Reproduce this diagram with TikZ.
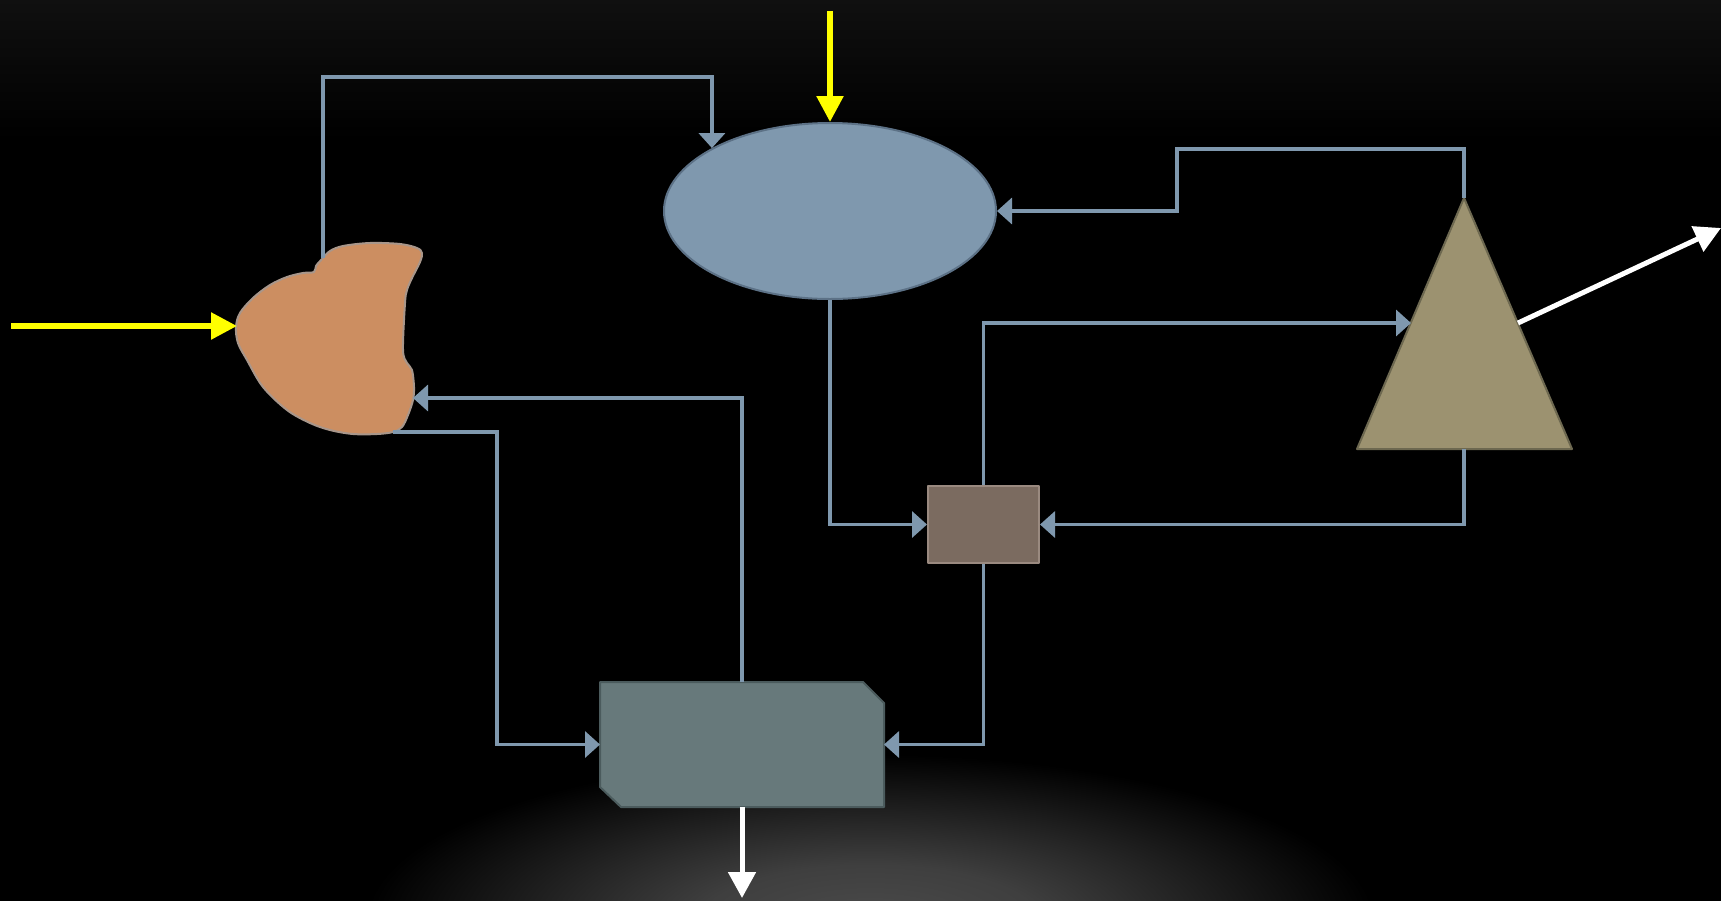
\documentclass[tikz,border=0pt]{standalone}
\usetikzlibrary{arrows.meta,shapes.geometric,calc}
\definecolor{bgtop}{HTML}{111111}
\definecolor{glow}{HTML}{4A4A4A}
\definecolor{linkblue}{HTML}{7F98AE}
\definecolor{ellfill}{HTML}{7F98AE}
\definecolor{ellborder}{HTML}{5C7186}
\definecolor{blobfill}{HTML}{CC8E61}
\definecolor{blobborder}{HTML}{A8968A}
\definecolor{trifill}{HTML}{9C9270}
\definecolor{triborder}{HTML}{6D6850}
\definecolor{sbfill}{HTML}{7B6B60}
\definecolor{sbborder}{HTML}{9A8A80}
\definecolor{bbfill}{HTML}{67797B}
\definecolor{bbborder}{HTML}{4B5B5D}
\definecolor{yel}{HTML}{FFFF00}
\pgfdeclareradialshading{glowshade}{\pgfpoint{0bp}{0bp}}{color(0bp)=(glow); color(6bp)=(glow!85!black); color(18bp)=(black); color(50bp)=(black)}
\begin{document}
\begin{tikzpicture}[x=1pt,y=-1pt,
  conn/.style={draw=linkblue, line width=3.5pt, -{Triangle[length=15pt,width=26pt]}},
  yarrow/.style={draw=yel, line width=5.5pt, -{Triangle[length=26pt,width=26pt]}},
  warrow/.style={draw=white, line width=5pt, -{Triangle[length=26pt,width=27pt]}},
  shapeline/.style={line width=2pt, line join=round}]
\useasboundingbox (0,0) rectangle (1721,900);
% background
\fill[black] (-10,-10) rectangle (1731,910);
\begin{scope}
\clip (-10,-10) rectangle (1731,910);
\fill[top color=bgtop, bottom color=black] (-10,-10) rectangle (1731,140);
\shade[shading=glowshade] (870,920) ellipse [x radius=700, y radius=230];
\end{scope}

% ellipse
\node[ellipse, fill=ellfill, draw=ellborder, shapeline, minimum width=332pt, minimum height=176pt, inner sep=0pt] (ell) at (830,211) {};

% blob
\filldraw[fill=blobfill, draw=blobborder, shapeline] plot[smooth cycle, tension=0.55] coordinates {
(314,272) (316,266) (322,259) (330,251) (343,246) (370,243) (400,244) (417,248) (422,253) (420,262)
(412,278) (407,290) (405,303) (403,350) (407,363) (412,370) (414,387) (413,400) (408,415) (402,427)
(393,432) (377,434) (353,434) (330,430) (310,423) (287,410) (263,387) (247,360) (238,343) (236,327)
(240,313) (253,298) (270,285) (287,277) (303,273)};
\coordinate (blobtop) at (323,258);
\coordinate (blobright) at (413,398);
\coordinate (blobbot) at (393,432);
\coordinate (blobleft) at (237,326);

% triangle
\coordinate (triapex) at (1464,198);
\coordinate (tribl) at (1357,449);
\coordinate (tribr) at (1572,449);
\filldraw[fill=trifill, draw=triborder, shapeline] (triapex) -- (tribr) -- (tribl) -- cycle;
\coordinate (tribase) at (1464,449);
\coordinate (trileft) at (1411,323);
\coordinate (triright) at (1518,323);

% small box
\node[rectangle, fill=sbfill, draw=sbborder, shapeline, minimum width=111pt, minimum height=77pt, inner sep=0pt] (sb) at (983.5,524.5) {};

% big chamfered box
\node[rectangle, minimum width=284pt, minimum height=125pt, inner sep=0pt, outer sep=0pt] (bb) at (742,744.5) {};
\filldraw[fill=bbfill, draw=bbborder, shapeline] (bb.north west) -- ([xshift=-21pt]bb.north east) -- ([yshift=-21pt]bb.north east) -- (bb.south east) -- ([xshift=21pt]bb.south west) -- ([yshift=20pt]bb.south west) -- cycle;

% connectors
\draw[conn] (blobtop) -- ++(0,-181) -| (ell.north west);
\draw[conn] (triapex) -- ++(0,-49) -- ++(-287,0) |- (ell.east);
\draw[conn] (sb.north) |- (trileft);
\draw[conn] (ell.south) |- (sb.west);
\draw[conn] (tribase) |- (sb.east);
\draw[conn] (sb.south) |- (bb.east);
\draw[conn] (bb.north) |- (blobright);
\draw[conn] (blobbot) -- ++(104,0) |- (bb.west);

% inputs and outputs
\coordinate (ytop) at (830,11);
\coordinate (yleft) at (11,326);
\coordinate (bbout) at (742,898);
\coordinate (diagout) at (1721,228);
\draw[yarrow] (ytop) -- (ell.north);
\draw[yarrow] (yleft) -- (blobleft);
\draw[warrow] (bb.south) -- (bbout);
\draw[warrow] (triright) -- (diagout);
\end{tikzpicture}
\end{document}
